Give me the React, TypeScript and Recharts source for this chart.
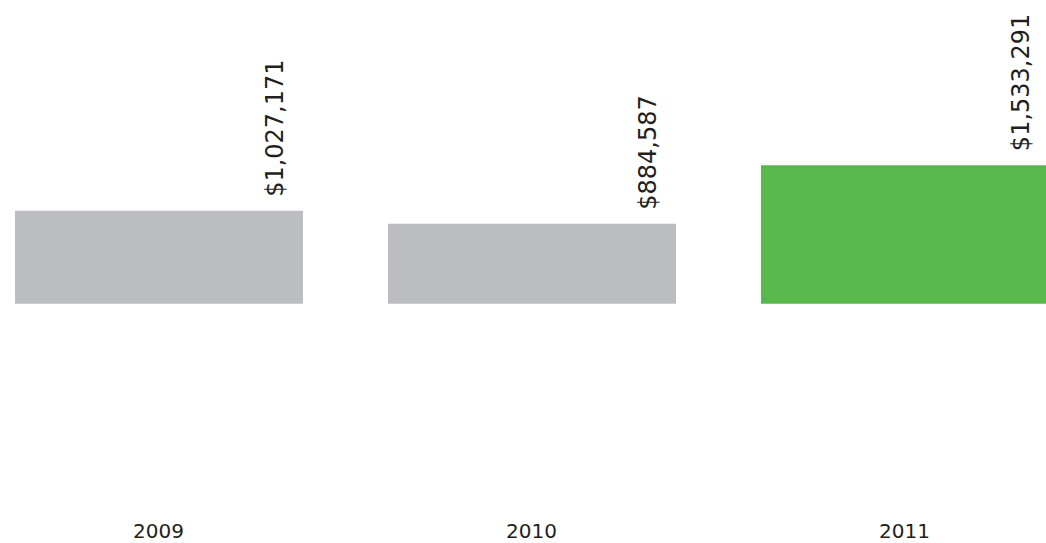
import { Bar, BarChart, Cell, LabelList, XAxis, YAxis } from 'recharts';

const years = ['2009', '2010', '2011'];
const revenue = [1027171, 884587, 1533291];
const barColors = ['#BCBDC0', '#BCBDC0', '#58B84B'];

const data = years.map((year, i) => ({ year, revenue: revenue[i] }));

const fmt = (v: number) => '$' + v.toLocaleString('en-US');

const RotatedLabel = (props: any) => {
  const { x, y, width, value } = props;
  const lx = x + width - 19.5;
  const ly = y - 14;
  return (
    <text
      x={lx}
      y={ly}
      transform={`rotate(-90, ${lx}, ${ly})`}
      textAnchor="start"
      fontSize={24}
      fontFamily="DejaVu Sans"
      fill="#231f20"
    >
      {fmt(value)}
    </text>
  );
};

const App = () => {
  return (
    <div
      style={{
        position: 'fixed',
        left: 0,
        top: 0,
        width: 1046,
        height: 543,
        overflow: 'hidden',
        background: '#fff',
      }}
    >
      <div style={{ position: 'absolute', left: -28.5, top: 0 }}>
        <BarChart
          width={1119}
          height={543}
          data={data}
          barSize={288}
          margin={{ top: 10, right: 0, bottom: 6, left: 0 }}
        >
          <XAxis
            dataKey="year"
            axisLine={false}
            tickLine={false}
            height={30}
            tickMargin={11}
            tick={{ fontSize: 20, fontFamily: 'DejaVu Sans', fill: '#231f20' }}
          />
          <YAxis hide domain={[-2250000, 3250000]} allowDataOverflow />
          <Bar dataKey="revenue" isAnimationActive={false}>
            {data.map((d, i) => (
              <Cell key={d.year} fill={barColors[i]} />
            ))}
            <LabelList dataKey="revenue" content={RotatedLabel} />
          </Bar>
        </BarChart>
      </div>
    </div>
  );
};

export default App;
